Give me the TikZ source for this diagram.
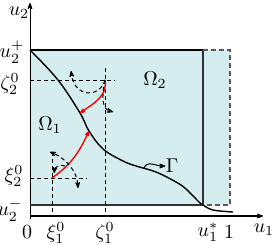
\documentclass[tikz,border=0pt]{standalone}
\usepackage{amsmath,amssymb}
\usetikzlibrary{positioning,calc,arrows.meta}
\definecolor{region}{RGB}{214,237,240}

\begin{document}
\begin{tikzpicture}[x=0.5pt, y=0.5pt, >={Stealth[round,length=4pt,width=3pt]},
 axis/.style={->, line width=0.5pt},
 border/.style={line width=0.9pt},
 guide/.style={line width=0.3pt, dash pattern=on 2pt off 1.5pt},
 ext/.style={line width=0.7pt, dash pattern=on 2.5pt off 1.5pt, black!65},
 flow/.style={->, red, line width=0.7pt},
 turn/.style={->, line width=0.5pt, dash pattern=on 2pt off 1.5pt},
 lab/.style={inner sep=0pt}]

\useasboundingbox (-30,-29) rectangle (242,216);

% region
\fill[region] (0,11) rectangle (200,166);

\coordinate (o) at (0,0);
\coordinate (lt) at (0,166);
\coordinate (rt) at (173,166);
\coordinate (rb) at (173,11);
\coordinate (lb) at (0,11);
\coordinate (et) at (200,166);
\coordinate (eb) at (200,11);
\coordinate (z) at (75,136);
\coordinate (x) at (22,38);
\coordinate (g1) at (50,103);
\coordinate (g2) at (59,85);

% axes
\draw[axis] (0,-3) -- (0,213) coordinate (ytip);
\draw[axis] (o) -- (233,0) coordinate (xtip);

% borders
\draw[border] (lt) -- (rt);
\draw[line width=0.6pt, black!80] (rt) -- (rb) -- (lb);
\draw[ext] (rt) -- (et) -- (eb) -- (rb);

% Gamma
\draw[line width=0.7pt] plot[smooth, tension=0.6] coordinates {(0,166) (28,136) (g1) (g2) (73,67) (93,55) (106,50) (126,44) (146,34) (156,27) (169,14) (rb) (183,6) (203,4)};

% guides
\draw[guide] (o |- z) -- ($(z)+(10,0)$);
\draw[guide] ($(z)+(0,12)$) -- (z |- o);
\draw[guide] (o |- x) -- ($(x)+(35,0)$);
\draw[guide] ($(x)+(0,26)$) -- (x |- o);

% red paths
\draw[flow] (z) to[out=-80,in=35] (g1);
\draw[flow] (x) to[out=35,in=-115] (g2);

% turning arrows
\draw[turn] (z) .. controls (70,118) and (45,118) .. (41,145);
\draw[turn] (z) .. controls (71,117) and (73,107) .. (83,104);
\draw[turn, <->] (48,28) .. controls (47,45) and (35,58) .. (20,64);
\draw[turn] (35,50) .. controls (31,52) and (25,49) .. (24,43);

% Gamma label
\node[lab] (gam) at (142,50) {$\Gamma$};
\draw[->, line width=0.5pt] (114,48) to[out=70,in=180] (gam.west);

% labels
\node[lab] (om1) at (20,91) {$\Omega_1$};
\node[lab] (om2) at (125,136) {$\Omega_2$};
\node[lab] (yl) at (-11,203) {$u_2$};
\node[lab] (xl) at (234,-14) {$u_1$};
\node[lab] (up) at (-18,164) {$u_2^+$};
\node[lab] (um) at (-20,6) {$u_2^-$};
\node[lab] (z2) at (-20,132) {$\zeta_2^0$};
\node[lab] (x2) at (-16,40) {$\xi_2^0$};
\node[lab] (zero) at (-3,-16) {$0$};
\node[lab] (x1) at (26,-17) {$\xi_1^0$};
\node[lab] (z1) at (75,-17) {$\zeta_1^0$};
\node[lab] (us) at (178,-16) {$u_1^*$};
\node[lab] (one) at (199,-16) {$1$};
\end{tikzpicture}
\end{document}
